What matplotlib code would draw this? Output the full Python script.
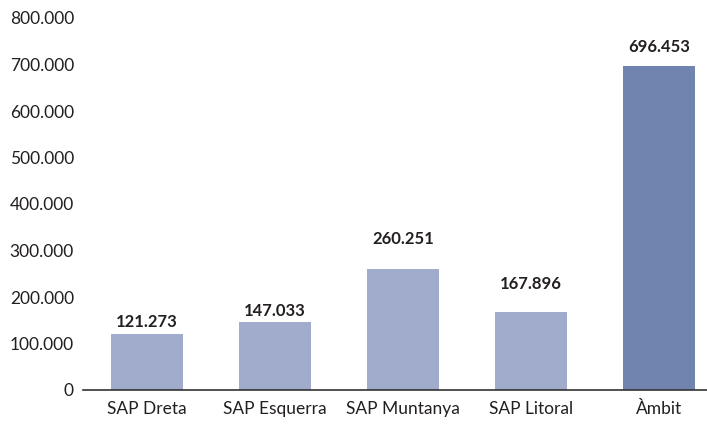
import matplotlib.pyplot as plt
from matplotlib.ticker import FuncFormatter

# dades
categories = ["SAP Dreta", "SAP Esquerra", "SAP Muntanya", "SAP Litoral", "Àmbit"]
values = [121273, 147033, 260251, 167896, 696453]
value_labels = ["121.273", "147.033", "260.251", "167.896", "696.453"]
y_ticks = [0, 100000, 200000, 300000, 400000, 500000, 600000, 700000, 800000]

colors = ["#a1abcb", "#a1abcb", "#a1abcb", "#a1abcb", "#7184b0"]
label_offsets = [8, 8, 21.5, 20, 13.7]  # punts per sobre de cada barra (centre del text)
text_color = "#231f20"

plt.rcParams['font.family'] = ['Lato', 'DejaVu Sans']

fig = plt.figure(figsize=(7.07, 4.25), dpi=100)
ax = fig.add_axes([83 / 707, 35 / 425, 640 / 707, 372 / 425])

x = range(len(categories))
ax.bar(x, values, width=0.5625, color=colors, zorder=2)

for i, (v, lab) in enumerate(zip(values, value_labels)):
    ax.annotate(lab, (i, v), xytext=(0, label_offsets[i]), textcoords="offset points",
                ha="center", va="center", fontsize=12, fontweight="bold", color=text_color)

ax.set_xlim(-0.5, 4.5)
ax.set_ylim(0, 800000)
ax.set_yticks(y_ticks)
ax.yaxis.set_major_formatter(FuncFormatter(lambda v, p: "0" if v == 0 else f"{int(v):,}".replace(",", ".")))
ax.set_xticks(list(x))
ax.set_xticklabels(categories)

for s in ["top", "right", "left"]:
    ax.spines[s].set_visible(False)
ax.spines["bottom"].set_color("#333333")
ax.spines["bottom"].set_linewidth(1.2)
ax.tick_params(axis="both", length=0, labelsize=12.5, colors=text_color)
ax.tick_params(axis="y", pad=6.5)
ax.tick_params(axis="x", pad=8)

fig.savefig("out.png", dpi=100)
